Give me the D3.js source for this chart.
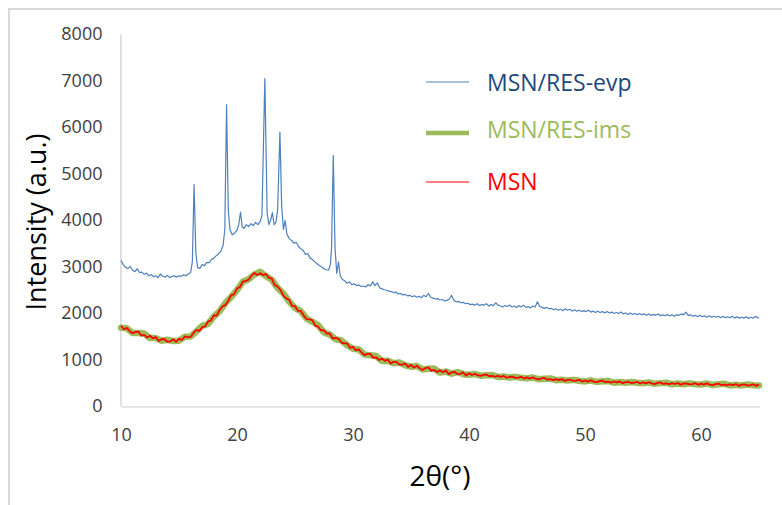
<!DOCTYPE html>
<html>
<head>
<meta charset="utf-8">
<script src="https://cdn.jsdelivr.net/npm/d3@7"></script>
<style>
  html, body { margin: 0; padding: 0; background: #fff; }
  svg { display: block; font-family: "Open Sans", "Liberation Sans", sans-serif; }
</style>
</head>
<body>
<svg id="chart" width="782" height="505"></svg>
<script>
// XRD patterns: [2θ (deg), intensity (a.u.)]
const evpPattern = [
  [10,3130],[10.2,3040],[10.4,2980],[10.6,2960],[10.8,3000],[11,2920],[11.2,2890],[11.4,2950],[11.6,2870],[11.8,2880],
  [12,2830],[12.2,2860],[12.4,2800],[12.6,2830],[12.8,2780],[13,2800],[13.2,2760],[13.4,2840],[13.6,2790],[13.8,2770],
  [14,2810],[14.2,2760],[14.4,2790],[14.6,2800],[14.8,2770],[15,2800],[15.2,2790],[15.4,2820],[15.6,2800],[15.8,2840],
  [16,2870],[16.15,3100],[16.3,4760],[16.45,3300],[16.6,2980],[16.8,2960],[17,3040],[17.2,3020],[17.4,3090],[17.6,3080],
  [17.8,3150],[18,3180],[18.2,3230],[18.4,3270],[18.6,3330],[18.8,3450],[18.95,3800],[19.1,6480],[19.25,4200],[19.4,3780],
  [19.6,3680],[19.8,3720],[20,3780],[20.15,3900],[20.3,4170],[20.45,3850],[20.6,3820],[20.8,3900],[21,3860],[21.2,3920],
  [21.4,3880],[21.6,3950],[21.8,3900],[22,3970],[22.15,4100],[22.4,7040],[22.6,4150],[22.75,3900],[22.9,4000],[23.05,4160],
  [23.2,3900],[23.35,3950],[23.5,4200],[23.7,5890],[23.85,4300],[24,3800],[24.15,3990],[24.3,3700],[24.5,3600],[24.7,3560],
  [24.9,3500],[25.1,3520],[25.3,3430],[25.5,3380],[25.7,3350],[25.9,3260],[26.1,3280],[26.3,3180],[26.5,3150],[26.7,3100],
  [26.9,3060],[27.1,3020],[27.3,2990],[27.5,2950],[27.7,2930],[27.9,2920],[28.05,3050],[28.15,3400],[28.3,5390],[28.45,3400],
  [28.6,2850],[28.75,3100],[28.9,2800],[29.1,2720],[29.3,2690],[29.5,2640],[29.7,2670],[29.9,2610],[30.1,2630],[30.3,2590],
  [30.5,2600],[30.7,2570],[30.9,2580],[31.1,2560],[31.3,2610],[31.5,2580],[31.7,2670],[31.9,2590],[32.1,2650],[32.3,2540],
  [32.5,2520],[32.7,2500],[32.9,2490],[33.1,2470],[33.3,2460],[33.5,2440],[33.7,2450],[33.9,2410],[34.1,2420],[34.3,2390],
  [34.5,2400],[34.7,2370],[34.9,2380],[35.1,2350],[35.3,2370],[35.5,2340],[35.7,2360],[35.9,2330],[36.1,2380],[36.3,2350],
  [36.5,2420],[36.7,2340],[36.9,2320],[37.1,2300],[37.3,2310],[37.5,2280],[37.7,2290],[37.9,2260],[38.1,2270],[38.3,2300],
  [38.5,2380],[38.7,2270],[38.9,2240],[39.1,2250],[39.3,2220],[39.5,2230],[39.7,2200],[39.9,2210],[40.1,2180],[40.3,2190],
  [40.5,2170],[40.7,2200],[40.9,2160],[41.1,2180],[41.3,2170],[41.5,2200],[41.7,2150],[41.9,2180],[42.1,2160],[42.3,2220],
  [42.5,2170],[42.7,2150],[42.9,2130],[43.1,2160],[43.3,2140],[43.5,2170],[43.7,2130],[43.9,2150],[44.1,2120],[44.3,2160],
  [44.5,2130],[44.7,2170],[44.9,2120],[45.1,2140],[45.3,2110],[45.5,2150],[45.7,2130],[45.9,2240],[46.1,2140],[46.3,2120],
  [46.5,2100],[46.7,2120],[46.9,2090],[47.1,2100],[47.3,2070],[47.5,2090],[47.7,2060],[47.9,2080],[48.1,2050],[48.3,2090],
  [48.5,2060],[48.7,2080],[48.9,2040],[49.1,2070],[49.3,2040],[49.5,2060],[49.7,2030],[49.9,2050],[50.1,2030],[50.3,2060],
  [50.5,2020],[50.7,2040],[50.9,2010],[51.1,2040],[51.3,2010],[51.5,2030],[51.7,2000],[51.9,2030],[52.1,2000],[52.3,2020],
  [52.5,1990],[52.7,2010],[52.9,1990],[53.1,2020],[53.3,1980],[53.5,2000],[53.7,1970],[53.9,2000],[54.1,1970],[54.3,1990],
  [54.5,1960],[54.7,1990],[54.9,1960],[55.1,1980],[55.3,1950],[55.5,1980],[55.7,1950],[55.9,1970],[56.1,1950],[56.3,1980],
  [56.5,1940],[56.7,1960],[56.9,1940],[57.1,1970],[57.3,1940],[57.5,1960],[57.7,1930],[57.9,1960],[58.1,1950],[58.3,1980],
  [58.5,1960],[58.7,2020],[58.9,1950],[59.1,1960],[59.3,1930],[59.5,1950],[59.7,1920],[59.9,1950],[60.1,1920],[60.3,1940],
  [60.5,1910],[60.7,1940],[60.9,1910],[61.1,1930],[61.3,1910],[61.5,1930],[61.7,1900],[61.9,1930],[62.1,1900],[62.3,1920],
  [62.5,1900],[62.7,1930],[62.9,1890],[63.1,1920],[63.3,1890],[63.5,1910],[63.7,1890],[63.9,1920],[64.1,1880],[64.3,1910],
  [64.5,1890],[64.7,1930],[64.9,1890],[65,1910]
];

const imsPattern = [
  [10,1685],[10.5,1670],[11,1570],[11.5,1570],[12,1560],[12.5,1460],[13,1460],[13.5,1405],[14,1425],[14.5,1395],
  [15,1405],[15.5,1490],[16,1495],[16.5,1605],[17,1725],[17.5,1765],[18,1925],[18.5,2035],[19,2215],[19.5,2345],
  [20,2490],[20.5,2670],[21,2725],[21.5,2830],[22,2885],[22.5,2790],[23,2715],[23.5,2540],[24,2420],[24.5,2245],
  [25,2110],[25.5,2040],[26,1880],[26.5,1810],[27,1735],[27.5,1580],[28,1535],[28.5,1435],[29,1410],[29.5,1305],
  [30,1230],[30.5,1215],[31,1105],[31.5,1090],[32,1075],[32.5,970],[33,975],[33.5,920],[34,935],[34.5,875],
  [35,845],[35.5,860],[36,785],[36.5,800],[37,805],[37.5,720],[38,740],[38.5,695],[39,730],[39.5,685],
  [40,672],[40.5,687],[41,652],[41.5,661],[42,666],[42.5,625],[43,634],[43.5,614],[44,627],[44.5,607],
  [45,594],[45.5,611],[46,577],[46.5,588],[47,594],[47.5,555],[48,565],[48.5,547],[49,562],[49.5,542],
  [50,529],[50.5,548],[51,517],[51.5,530],[52,539],[52.5,502],[53,515],[53.5,499],[54,517],[54.5,499],
  [55,489],[55.5,508],[56,477],[56.5,492],[57,502],[57.5,467],[58,482],[58.5,467],[59,487],[59.5,470],
  [60,462],[60.5,483],[61,453],[61.5,468],[62,478],[62.5,443],[63,458],[63.5,443],[64,463],[64.5,447],[65,439]
];

const msnPattern = [
  [10,1725],[10.25,1650],[10.5,1680],[10.75,1610],[11,1565],[11.25,1595],[11.5,1600],[11.75,1515],[12,1530],[12.25,1475],
  [12.5,1510],[12.75,1455],[13,1485],[13.25,1400],[13.5,1435],[13.75,1435],[14,1380],[14.25,1390],[14.5,1435],[14.75,1380],
  [15,1445],[15.25,1420],[15.5,1495],[15.75,1480],[16,1485],[16.25,1570],[16.5,1635],[16.75,1615],[17,1695],[17.25,1710],
  [17.5,1815],[17.75,1840],[18,1950],[18.25,1945],[18.5,2065],[18.75,2145],[19,2170],[19.25,2265],[19.5,2385],[19.75,2400],
  [20,2530],[20.25,2560],[20.5,2675],[20.75,2690],[21,2715],[21.25,2805],[21.5,2860],[21.75,2815],[22,2855],[22.25,2815],
  [22.5,2840],[22.75,2755],[23,2740],[23.25,2600],[23.5,2570],[23.75,2495],[24,2375],[24.25,2315],[24.5,2285],[24.75,2155],
  [25,2150],[25.25,2045],[25.5,2045],[25.75,1945],[26,1870],[26.25,1865],[26.5,1840],[26.75,1725],[27,1705],[27.25,1625],
  [27.5,1630],[27.75,1555],[28,1560],[28.25,1450],[28.5,1465],[28.75,1445],[29,1365],[29.25,1345],[29.5,1345],[29.75,1250],
  [30,1270],[30.25,1195],[30.5,1220],[30.75,1145],[31,1095],[31.25,1120],[31.5,1120],[31.75,1035],[32,1045],[32.25,990],
  [32.5,1020],[32.75,970],[33,1000],[33.25,915],[33.5,950],[33.75,950],[34,890],[34.25,890],[34.5,915],[34.75,840],
  [35,885],[35.25,825],[35.5,865],[35.75,810],[36,775],[36.25,815],[36.5,830],[36.75,755],[37,775],[37.25,730],
  [37.5,770],[37.75,727],[38,765],[38.25,685],[38.5,725],[38.75,735],[39,685],[39.25,692],[39.5,725],[39.75,655],
  [40,705],[40.25,666],[40.5,690],[40.75,663],[41,646],[41.25,668],[41.5,676],[41.75,640],[42,650],[42.25,629],
  [42.5,650],[42.75,628],[43,647],[43.25,608],[43.5,629],[43.75,632],[44,605],[44.25,610],[44.5,627],[44.75,590],
  [45,614],[45.25,589],[45.5,614],[45.75,587],[46,571],[46.25,594],[46.5,603],[46.75,567],[47,578],[47.25,558],
  [47.5,580],[47.75,558],[48,578],[48.25,540],[48.5,562],[48.75,565],[49,540],[49.25,545],[49.5,562],[49.75,525],
  [50,549],[50.25,525],[50.5,551],[50.75,526],[51,511],[51.25,535],[51.5,545],[51.75,511],[52,523],[52.25,504],
  [52.5,527],[52.75,507],[53,528],[53.25,491],[53.5,514],[53.75,519],[54,495],[54.25,501],[54.5,519],[54.75,484],
  [55,509],[55.25,485],[55.5,511],[55.75,486],[56,471],[56.25,496],[56.5,507],[56.75,474],[57,486],[57.25,468],
  [57.5,492],[57.75,473],[58,495],[58.25,458],[58.5,482],[58.75,488],[59,465],[59.25,472],[59.5,490],[59.75,456],
  [60,482],[60.25,459],[60.5,486],[60.75,461],[61,447],[61.25,472],[61.5,483],[61.75,450],[62,462],[62.25,444],
  [62.5,468],[62.75,449],[63,471],[63.25,434],[63.5,458],[63.75,464],[64,441],[64.25,448],[64.5,467],[64.75,433],[65,459]
];

const seriesNames = ["MSN/RES-evp", "MSN/RES-ims", "MSN"];
const xTickValues = [10, 20, 30, 40, 50, 60];
const yTickValues = [0, 1000, 2000, 3000, 4000, 5000, 6000, 7000, 8000];
const xTitle = "2θ(°)";
const yTitle = "Intensity (a.u.)";

const svg = d3.select("#chart");

// outer chart frame
svg.append("rect")
  .attr("x", 9).attr("y", 9)
  .attr("width", 800).attr("height", 520)
  .attr("fill", "none")
  .attr("stroke", "#d9d9d9")
  .attr("stroke-width", 2);

const x = d3.scaleLinear().domain([10, 65]).range([121, 759]);
const y = d3.scaleLinear().domain([0, 8000]).range([406, 34]);

// axes
const yAxis = svg.append("g")
  .attr("transform", "translate(120.5,0)")
  .call(d3.axisLeft(y).tickValues(yTickValues).tickFormat(d3.format("d"))
    .tickSize(0).tickSizeOuter(0).tickPadding(18));
const xAxis = svg.append("g")
  .attr("transform", "translate(0,406.5)")
  .call(d3.axisBottom(x).tickValues(xTickValues).tickFormat(d3.format("d"))
    .tickSize(0).tickSizeOuter(0).tickPadding(22));

[xAxis, yAxis].forEach(g => {
  g.select(".domain").attr("stroke", "#cccccc").attr("stroke-width", 1.2);
  g.selectAll("text")
    .attr("font-family", "'Open Sans', sans-serif")
    .attr("font-size", 18)
    .attr("fill", "#404040");
});

// axis titles
svg.append("text")
  .attr("x", 440).attr("y", 486)
  .attr("text-anchor", "middle")
  .attr("font-size", 28)
  .attr("fill", "#000")
  .text(xTitle);

svg.append("text")
  .attr("transform", "translate(46,222) rotate(-90)")
  .attr("text-anchor", "middle")
  .attr("font-size", 27)
  .attr("fill", "#000")
  .text(yTitle);

// data lines
const line = d3.line().x(d => x(d[0])).y(d => y(d[1]));

svg.append("path")
  .datum(imsPattern)
  .attr("d", line)
  .attr("fill", "none")
  .attr("stroke", "#9bbb59")
  .attr("stroke-width", 6.5)
  .attr("stroke-linejoin", "round")
  .attr("stroke-linecap", "round");

svg.append("path")
  .datum(msnPattern)
  .attr("d", line)
  .attr("fill", "none")
  .attr("stroke", "#ff0000")
  .attr("stroke-width", 1.8)
  .attr("stroke-linejoin", "round");

svg.append("path")
  .datum(evpPattern)
  .attr("d", line)
  .attr("fill", "none")
  .attr("stroke", "#4f81bd")
  .attr("stroke-width", 1.2)
  .attr("stroke-linejoin", "round");

// legend
const legendItems = [
  { name: seriesNames[0], stroke: "#4f81bd", width: 1.2, text: "#1f497d", ly: 82, ty: 83 },
  { name: seriesNames[1], stroke: "#9bbb59", width: 4.5, text: "#9bbb59", ly: 133, ty: 130 },
  { name: seriesNames[2], stroke: "#ff0000", width: 1.2, text: "#ff0000", ly: 182, ty: 182 }
];
const legend = svg.append("g");
legendItems.forEach(it => {
  legend.append("line")
    .attr("x1", 426).attr("x2", 469)
    .attr("y1", it.ly).attr("y2", it.ly)
    .attr("stroke", it.stroke)
    .attr("stroke-width", it.width);
  legend.append("text")
    .attr("x", 487).attr("y", it.ty)
    .attr("dy", "0.36em")
    .attr("font-size", 23)
    .attr("fill", it.text)
    .text(it.name);
});
</script>
</body>
</html>
